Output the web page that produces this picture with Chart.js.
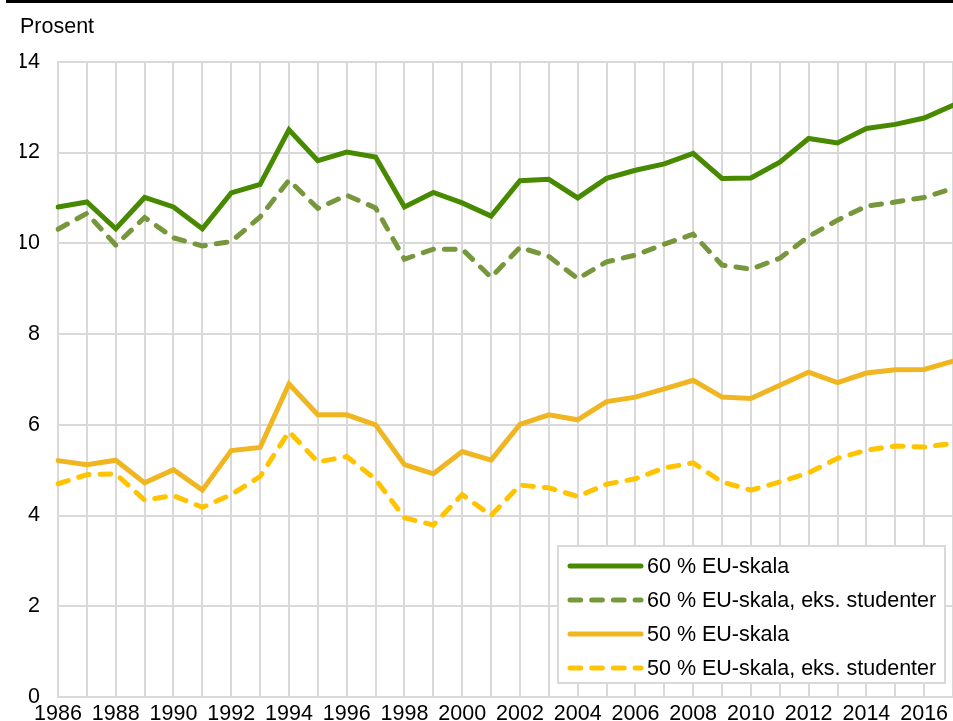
<!DOCTYPE html>
<html>
<head>
<meta charset="utf-8">
<script src="https://cdn.jsdelivr.net/npm/chart.js@4.4.1/dist/chart.umd.min.js"></script>
<style>
    html, body { margin: 0; padding: 0; background: #fff; overflow: hidden; }
    #topbar { height: 3px; margin-left: 6px; background: #000; }
    #wrap { position: relative; width: 953px; height: 718px; }
</style>
</head>
<body>
<div id="topbar"></div>
<div id="wrap"><canvas id="chart"></canvas></div>
<script>
const years = [
    '1986', '1987', '1988', '1989', '1990', '1991', '1992', '1993', '1994', '1995', '1996',
    '1997', '1998', '1999', '2000', '2001', '2002', '2003', '2004', '2005', '2006', '2007',
    '2008', '2009', '2010', '2011', '2012', '2013', '2014', '2015', '2016', '2017'
];

const eu60 = [
    10.80, 10.91, 10.32, 11.01, 10.80, 10.32, 11.11, 11.30, 12.50, 11.82, 12.01,
    11.90, 10.80, 11.12, 10.89, 10.60, 11.38, 11.41, 11.00, 11.43, 11.61, 11.75,
    11.98, 11.43, 11.44, 11.79, 12.31, 12.21, 12.53, 12.62, 12.76, 13.04
];
const eu60Eks = [
    10.31, 10.66, 9.96, 10.57, 10.12, 9.94, 10.04, 10.58, 11.39, 10.77, 11.06,
    10.78, 9.65, 9.87, 9.87, 9.25, 9.91, 9.71, 9.22, 9.59, 9.74, 9.98,
    10.20, 9.52, 9.43, 9.67, 10.15, 10.51, 10.82, 10.91, 11.01, 11.21
];
const eu50 = [
    5.21, 5.12, 5.22, 4.72, 5.01, 4.56, 5.43, 5.50, 6.90, 6.22, 6.22,
    6.00, 5.12, 4.92, 5.41, 5.22, 6.01, 6.22, 6.11, 6.51, 6.61, 6.79,
    6.98, 6.61, 6.58, 6.87, 7.16, 6.93, 7.14, 7.21, 7.22, 7.40
];
const eu50Eks = [
    4.70, 4.90, 4.92, 4.34, 4.44, 4.18, 4.46, 4.86, 5.85, 5.18, 5.30,
    4.80, 3.95, 3.79, 4.46, 4.00, 4.67, 4.61, 4.42, 4.69, 4.81, 5.05,
    5.16, 4.74, 4.56, 4.74, 4.94, 5.26, 5.44, 5.53, 5.51, 5.59
];

const seriesLabels = [
    '60 % EU-skala',
    '60 % EU-skala, eks. studenter',
    '50 % EU-skala',
    '50 % EU-skala, eks. studenter'
];

const FONT = 'Arial, "Liberation Sans", sans-serif';
const gridColor = '#d9d9d9';

// legend drawn inside the plot, bottom right
const legendBox = {
    id: 'legendBox',
    afterDatasetsDraw(chart) {
        const ctx = chart.ctx;
        const area = chart.chartArea;
        const w = 387, h = 137;
        const x0 = area.right - 8 - w;
        const y0 = area.bottom - 14 - h;
        ctx.save();
        ctx.fillStyle = '#fff';
        ctx.fillRect(x0, y0, w, h);
        ctx.strokeStyle = gridColor;
        ctx.lineWidth = 2;
        ctx.strokeRect(x0, y0, w, h);
        ctx.font = '21.5px ' + FONT;
        ctx.textBaseline = 'middle';
        ctx.fillStyle = '#000';
        chart.data.datasets.forEach((ds, i) => {
            const y = y0 + 20 + i * 34;
            ctx.beginPath();
            ctx.setLineDash(ds.borderDash || []);
            ctx.lineCap = 'round';
            ctx.strokeStyle = ds.borderColor;
            ctx.lineWidth = ds.borderWidth;
            ctx.moveTo(x0 + 12, y);
            ctx.lineTo(x0 + 83, y);
            ctx.stroke();
            ctx.setLineDash([]);
            ctx.fillText(ds.label, x0 + 89, y + 1);
        });
        ctx.restore();
    }
};

function makeSet(label, data, color, dashed) {
    return {
        label: label,
        data: data,
        borderColor: color,
        backgroundColor: color,
        borderWidth: 5,
        borderDash: dashed ? [10.7, 11] : [],
        borderCapStyle: 'round',
        borderJoinStyle: 'miter',
        pointRadius: 0,
        fill: false,
        tension: 0
    };
}

const ctx = document.getElementById('chart').getContext('2d');
new Chart(ctx, {
    type: 'line',
    data: {
        labels: years,
        datasets: [
            makeSet(seriesLabels[0], eu60, '#478a00', false),
            makeSet(seriesLabels[1], eu60Eks, '#76973b', true),
            makeSet(seriesLabels[2], eu50, '#efb622', false),
            makeSet(seriesLabels[3], eu50Eks, '#ffc300', true)
        ]
    },
    options: {
        responsive: true,
        maintainAspectRatio: false,
        animation: false,
        layout: { padding: { left: 20, right: 0, top: 0, bottom: 0 } },
        plugins: {
            legend: { display: false },
            tooltip: { enabled: false },
            title: {
                display: true,
                text: 'Prosent',
                align: 'start',
                color: '#000',
                font: { family: FONT, size: 21.5, weight: 'normal' },
                padding: { top: 11, bottom: 22 }
            }
        },
        scales: {
            x: {
                type: 'category',
                offset: false,
                grid: { color: gridColor, lineWidth: 2, drawTicks: false },
                border: { color: gridColor, width: 2 },
                ticks: {
                    autoSkip: false,
                    maxRotation: 0,
                    padding: 4,
                    color: '#000',
                    font: { family: FONT, size: 21.5 },
                    callback: function (value) {
                        const y = this.getLabelForValue(value);
                        return Number(y) % 2 === 0 ? y : '';
                    }
                },
                afterFit: function (scale) {
                    scale.height = 24;
                    scale.paddingRight = 0;
                }
            },
            y: {
                min: 0,
                max: 14,
                grid: { color: gridColor, lineWidth: 2, drawTicks: false },
                border: { color: gridColor, width: 2 },
                ticks: {
                    stepSize: 2,
                    padding: 18,
                    color: '#000',
                    font: { family: FONT, size: 21.5 }
                },
                afterFit: function (scale) {
                    scale.width = 38;
                    scale.paddingTop = 0;
                    scale.paddingBottom = 0;
                }
            }
        }
    },
    plugins: [legendBox]
});
</script>
</body>
</html>
